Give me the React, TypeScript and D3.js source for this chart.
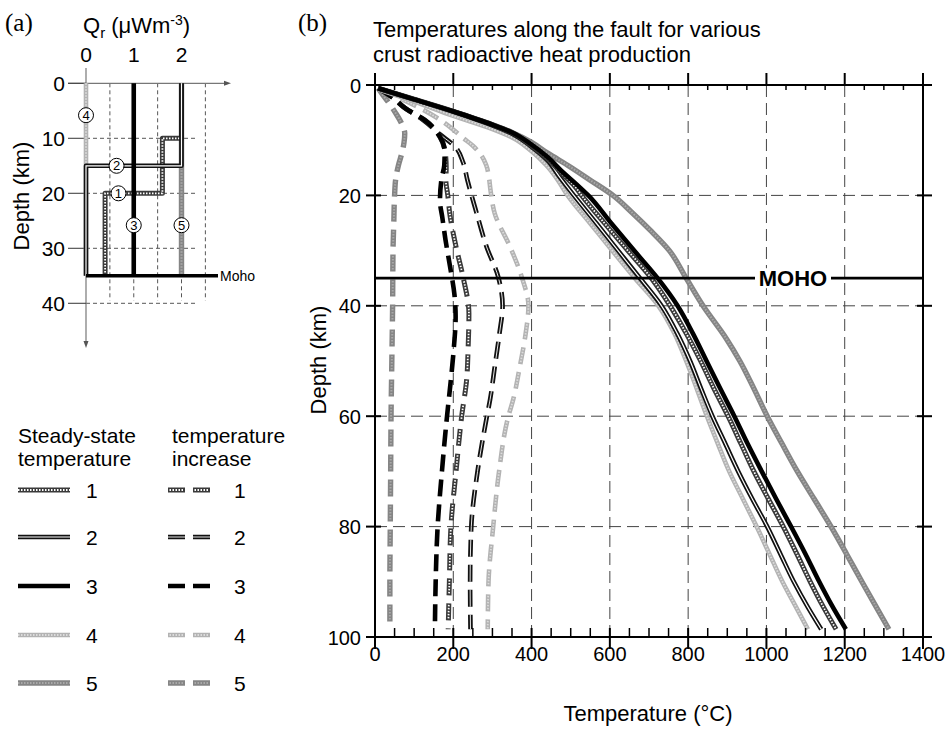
import React from "react";
import * as d3 from "d3";

// ---------- DATA ----------
const tempTicks = [0, 200, 400, 600, 800, 1000, 1200, 1400];
const depthTicks = [0, 20, 40, 60, 80, 100];
const tempGrid = [200, 400, 600, 800, 1000, 1200];
const depthGrid = [20, 40, 60, 80];
const mohoDepth = 35;

// steady-state temperature [T (°C), depth (km)]
const steady1: [number, number][] = [[8,0.6],[100,2.6],[200,4.8],[300,7.2],[350,8.6],[400,11],[440,13.3],[480,16.2],[510,18.3],[528,20],[586,25],[646,30],[706,35],[754,40],[795,45],[832,50],[866,55],[902,60],[935,65],[968,70],[1005,75],[1043,80],[1078,85],[1112,90],[1145,94.5],[1178,98.6]];
const steady2: [number, number][] = [[8,0.6],[100,2.6],[200,4.8],[300,7.3],[350,8.8],[400,11.2],[440,13.6],[470,16.5],[508,20],[565,25],[621,30],[677,35],[732,40],[772,45],[805,50],[833,55],[862,60],[895,65],[928,70],[964,75],[1002,80],[1036,85],[1070,90],[1105,94.5],[1140,98.6]];
const steady3: [number, number][] = [[8,0.6],[100,2.6],[200,4.8],[300,7.2],[350,8.6],[400,10.8],[440,13],[480,15.8],[515,18],[545,20],[603,25],[662,30],[722,35],[773,40],[812,45],[847,50],[882,55],[918,60],[952,65],[988,70],[1025,75],[1063,80],[1100,85],[1135,90],[1165,94],[1203,98.6]];
const steady4: [number, number][] = [[8,0.8],[100,3],[200,5.6],[300,8],[350,9.5],[400,12],[437,14.5],[465,17],[492,20],[549,25],[606,30],[664,35],[724,40],[765,45],[795,50],[822,55],[848,60],[876,65],[905,70],[940,75],[975,80],[1008,85],[1041,90],[1075,94.5],[1106,98.6]];
const steady5: [number, number][] = [[8,0.6],[100,2.6],[200,4.8],[300,7.2],[350,8.6],[400,10.4],[440,12.3],[498,14.8],[549,17.2],[608,20],[655,23],[703,26.3],[752,30],[795,35],[838,40],[898,46],[932,50],[968,55],[1002,60],[1040,65],[1079,70],[1122,75],[1165,80],[1205,85],[1244,90],[1280,94.5],[1313,98.6]];

// temperature increase [T (°C), depth (km)]
const increase1: [number, number][] = [[8,0.6],[40,2],[77,4.2],[128,6.4],[166,9.4],[180,12.5],[182,15],[181,17.2],[186,20],[191,23.3],[207,29.3],[225,34.8],[240,41.4],[238,47.5],[234,53.5],[222,59.7],[207,70],[194,80],[190,90],[187,98.6]];
const increase2: [number, number][] = [[8,0.6],[40,2],[77,4.2],[120,6.2],[165,8.9],[205,11.2],[225,14],[236,17.2],[260,23.3],[285,29.3],[315,34.8],[326,40],[318,45],[306,51],[294,57],[286,60],[262,70],[246,80],[243,90],[244,98.6]];
const increase3: [number, number][] = [[8,0.6],[40,2],[77,4.2],[128,6.4],[166,9.4],[178,12],[177,14.5],[170,17],[166,21],[172,24],[180,28],[192,33],[203,38],[206,42],[201,48],[193,54],[184,60],[171,70],[160,80],[155,90],[153,98.6]];
const increase4: [number, number][] = [[8,0.6],[50,2],[110,4],[155,5.8],[195,7.8],[225,9.6],[250,11],[271,12.7],[284,14.5],[291,16.7],[295,19],[306,23.3],[345,29.3],[375,34.8],[392,40],[385,45],[370,51],[353,57],[340,60.2],[317,70],[302,80],[290,90],[288,98.6]];
const increase5: [number, number][] = [[8,0.6],[20,1.8],[35,3.2],[52,5],[68,7],[76,8.8],[74,10.5],[68,12.5],[60,14.5],[53,17],[50,20],[48,25],[46,30],[45,40],[43,50],[41,60],[40,70],[39,80],[38,90],[38,98.6]];

const steadySeries = [steady5, steady4, steady2, steady1, steady3];
const steadyIds = [5, 4, 2, 1, 3];
const increaseSeries = [increase5, increase4, increase2, increase1, increase3];
const increaseIds = [5, 4, 2, 1, 3];

// panel (a): Qr profiles [Qr, depth]
const qrTicks = [0, 1, 2];
const qrDepthTicks = [0, 10, 20, 30, 40];
const qrGridV = [0.5, 1, 1.5, 2, 2.5];
const qrGridH = [10, 20, 30, 40];
const profile4: [number, number][] = [[0,0],[0,35]];
const profile5: [number, number][] = [[2,0],[2,35]];
const profile1: [number, number][] = [[2,0],[2,10],[1.6,10],[1.6,20],[0.4,20],[0.4,35]];
const profile2: [number, number][] = [[2,0],[2,15],[0,15],[0,35]];
const profile3: [number, number][] = [[1,0],[1,35]];
const profiles = [profile4, profile5, profile1, profile2, profile3];
const profileIds = [4, 5, 1, 2, 3];
const profileLabels: [string, number, number][] = [["4",0,5.8],["2",0.64,15],["1",0.68,20],["3",1,25.8],["5",2,25.8]];

const legendIds = [1, 2, 3, 4, 5];

// ---------- STYLES ----------
const SANS = "'Liberation Sans', Arial, Helvetica, sans-serif";
const SERIF = "'Liberation Serif', 'Times New Roman', serif";
const BASE_DASH = "17,8";
const CHECK_DASH = "0,1.5,1.5,1.5,1.5,1.5,1.5,1.5,1.5,1.5,1.5,10";

type Style = { color: string; width: number; over?: { color: string; width: number; dash: string | null; dashD: string; widthD?: number } };
const styles: Record<number, Style> = {
  1: { color: "#3a3a3a", width: 5, over: { color: "#ffffff", width: 1.8, dash: "1.5,1.5", dashD: CHECK_DASH } },
  2: { color: "#111111", width: 4.6, over: { color: "#ffffff", width: 1.2, dash: null, dashD: BASE_DASH, widthD: 0.9 } },
  3: { color: "#000000", width: 4.6 },
  4: { color: "#b3b3b3", width: 4.6, over: { color: "#dcdcdc", width: 1.8, dash: "1.5,1.5", dashD: CHECK_DASH } },
  5: { color: "#858585", width: 5.4, over: { color: "#a9a9a9", width: 2, dash: "1.5,1.5", dashD: CHECK_DASH } },
};

function Styled({ d, id, dashed }: { d: string; id: number; dashed: boolean }) {
  const s = styles[id];
  return (
    <g>
      <path d={d} fill="none" stroke={s.color} strokeWidth={s.width} strokeDasharray={dashed ? BASE_DASH : undefined} strokeLinejoin="round" />
      {s.over && (
        <path d={d} fill="none" stroke={s.over.color}
          strokeWidth={dashed && s.over.widthD ? s.over.widthD : s.over.width}
          strokeDasharray={dashed ? s.over.dashD : (s.over.dash ?? undefined)} />
      )}
    </g>
  );
}

// ---------- SCALES ----------
const xB = d3.scaleLinear().domain([0, 1400]).range([375, 923]);
const yB = d3.scaleLinear().domain([0, 100]).range([85, 637]);
const xA = d3.scaleLinear().domain([0, 2]).range([86, 181.5]);
const yA = d3.scaleLinear().domain([0, 40]).range([83.3, 303.3]);

const lineB = d3.line<[number, number]>().x((p) => xB(p[0])).y((p) => yB(p[1])).curve(d3.curveMonotoneY);
const lineA = d3.line<[number, number]>().x((p) => xA(p[0])).y((p) => yA(p[1]));

export default function App() {
  const minorTemps = d3.range(0, 1401, 50).filter((t) => t % 200 !== 0);
  const legendRows = [490, 537, 586, 635, 683];
  return (
    <svg width={946} height={729} style={{ position: "absolute", left: 0, top: 0 }} fontFamily={SANS}>
      <rect x={0} y={0} width={946} height={729} fill="#fff" />

      {/* ================= PANEL (a) ================= */}
      <text x={5} y={31} fontFamily={SERIF} fontSize={25}>(a)</text>
      <text x={83} y={33} fontSize={22}>
        Q<tspan fontSize={15} dy={5}>r</tspan><tspan dy={-5}> (μWm</tspan><tspan fontSize={14} dy={-8}>-3</tspan><tspan dy={8}>)</tspan>
      </text>
      {qrTicks.map((q) => (
        <text key={q} x={xA(q)} y={62} fontSize={21} textAnchor="middle">{q}</text>
      ))}
      {/* grid */}
      {qrGridV.map((q) => (
        <line key={"gv" + q} x1={xA(q)} x2={xA(q)} y1={yA(0)} y2={yA(39.5)} stroke="#444" strokeWidth={0.9} strokeDasharray="4,3" />
      ))}
      {qrGridH.map((d) => (
        <line key={"gh" + d} x1={xA(0)} x2={xA(2.33)} y1={yA(d)} y2={yA(d)} stroke="#444" strokeWidth={0.9} strokeDasharray="4,3" />
      ))}
      {/* axes */}
      <line x1={68} x2={226} y1={yA(0)} y2={yA(0)} stroke="#777" strokeWidth={1.2} />
      <path d={`M231,${yA(0)} L224,${yA(0) - 2.5} L224,${yA(0) + 2.5} Z`} fill="#555" />
      <line x1={xA(0)} x2={xA(0)} y1={68} y2={342} stroke="#777" strokeWidth={1.2} />
      <path d={`M${xA(0)},348 L${xA(0) - 2.5},341 L${xA(0) + 2.5},341 Z`} fill="#555" />
      {qrDepthTicks.map((d) => (
        <g key={"dt" + d}>
          <line x1={68} x2={xA(0)} y1={yA(d)} y2={yA(d)} stroke="#444" strokeWidth={1.1} />
          <text x={65} y={yA(d) + 7.5} fontSize={21} textAnchor="end">{d}</text>
        </g>
      ))}
      <text transform={`translate(29,196) rotate(-90)`} fontSize={22} textAnchor="middle">Depth (km)</text>
      {/* profiles */}
      {profiles.map((p, i) => (
        <Styled key={"pr" + i} d={lineA(p) as string} id={profileIds[i]} dashed={false} />
      ))}
      <line x1={xA(0)} x2={218} y1={yA(mohoDepth)} y2={yA(mohoDepth)} stroke="#000" strokeWidth={3.5} />
      <text x={220} y={yA(mohoDepth) + 5} fontSize={14}>Moho</text>
      {profileLabels.map(([l, q, d]) => (
        <g key={"pl" + l}>
          <circle cx={xA(q)} cy={yA(d)} r={7.5} fill="#fff" stroke="#000" strokeWidth={1} />
          <text x={xA(q)} y={yA(d) + 4.5} fontSize={13} textAnchor="middle">{l}</text>
        </g>
      ))}

      {/* legend */}
      <text x={18} y={443} fontSize={21}>Steady-state</text>
      <text x={18} y={466} fontSize={21}>temperature</text>
      <text x={172} y={443} fontSize={21}>temperature</text>
      <text x={172} y={466} fontSize={21}>increase</text>
      {legendIds.map((id, i) => (
        <g key={"lg" + id}>
          <Styled d={`M18,${legendRows[i]} H70`} id={id} dashed={false} />
          <text x={86} y={legendRows[i] + 8} fontSize={21}>{id}</text>
          <Styled d={`M168,${legendRows[i]} H218`} id={id} dashed={true} />
          <text x={234} y={legendRows[i] + 8} fontSize={21}>{id}</text>
        </g>
      ))}

      {/* ================= PANEL (b) ================= */}
      <text x={298} y={31} fontFamily={SERIF} fontSize={25}>(b)</text>
      <text x={373} y={36.5} fontSize={22}>Temperatures along the fault for various</text>
      <text x={373} y={62} fontSize={22}>crust radioactive heat production</text>

      {/* grid */}
      {tempGrid.map((t) => (
        <line key={"tg" + t} x1={xB(t)} x2={xB(t)} y1={yB(0)} y2={yB(100)} stroke="#444" strokeWidth={1} strokeDasharray="12,6" />
      ))}
      {depthGrid.map((d) => (
        <line key={"dg" + d} x1={xB(0)} x2={xB(1400)} y1={yB(d)} y2={yB(d)} stroke="#444" strokeWidth={1} strokeDasharray="12,6" />
      ))}

      {/* curves */}
      {increaseSeries.map((s, i) => (
        <Styled key={"inc" + i} d={lineB(s) as string} id={increaseIds[i]} dashed={true} />
      ))}
      {steadySeries.map((s, i) => (
        <Styled key={"ss" + i} d={lineB(s) as string} id={steadyIds[i]} dashed={false} />
      ))}

      {/* Moho */}
      <line x1={xB(0)} x2={xB(1400)} y1={yB(mohoDepth)} y2={yB(mohoDepth)} stroke="#000" strokeWidth={2.8} />
      <rect x={755} y={yB(mohoDepth) - 10} width={76} height={20} fill="#fff" />
      <text x={793} y={yB(mohoDepth) + 8} fontSize={22} fontWeight="bold" textAnchor="middle">MOHO</text>

      {/* frame */}
      <line x1={xB(0)} x2={xB(0)} y1={yB(0)} y2={yB(100)} stroke="#000" strokeWidth={2} />
      <line x1={xB(1400)} x2={xB(1400)} y1={yB(0)} y2={yB(100)} stroke="#000" strokeWidth={2} />
      <line x1={366} x2={930} y1={yB(0)} y2={yB(0)} stroke="#000" strokeWidth={2} />
      <line x1={366} x2={932} y1={yB(100)} y2={yB(100)} stroke="#000" strokeWidth={2} />
      {tempTicks.map((t) => (
        <g key={"tt" + t}>
          <line x1={xB(t)} x2={xB(t)} y1={yB(0) - 12} y2={yB(0)} stroke="#000" strokeWidth={2} />
          <line x1={xB(t)} x2={xB(t)} y1={yB(100) - 9} y2={yB(100) + 12} stroke="#000" strokeWidth={2} />
          <text x={xB(t)} y={661} fontSize={20} textAnchor="middle">{t}</text>
        </g>
      ))}
      {minorTemps.map((t) => (
        <g key={"mt" + t}>
          <line x1={xB(t)} x2={xB(t)} y1={yB(0)} y2={yB(0) + 5} stroke="#000" strokeWidth={1.5} />
          <line x1={xB(t)} x2={xB(t)} y1={yB(100) - 9} y2={yB(100)} stroke="#000" strokeWidth={1.5} />
        </g>
      ))}
      {depthTicks.map((d) => (
        <g key={"yt" + d}>
          <line x1={366} x2={381} y1={yB(d)} y2={yB(d)} stroke="#000" strokeWidth={2} />
          <line x1={917} x2={932} y1={yB(d)} y2={yB(d)} stroke="#000" strokeWidth={2} />
          <text x={361} y={yB(d) + 7.5} fontSize={20} textAnchor="end">{d}</text>
        </g>
      ))}
      <text transform={`translate(326,360) rotate(-90)`} fontSize={22} textAnchor="middle">Depth (km)</text>
      <text x={648} y={721} fontSize={22} textAnchor="middle">Temperature (°C)</text>
    </svg>
  );
}
